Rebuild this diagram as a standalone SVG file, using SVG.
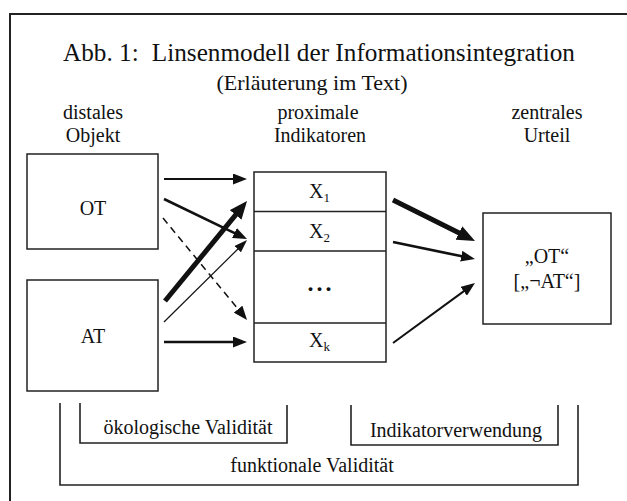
<svg xmlns="http://www.w3.org/2000/svg" width="627" height="501" viewBox="0 0 627 501" font-family="'Liberation Serif','Times New Roman',serif">
<style>
text{font-family:"Liberation Serif","Times New Roman",serif;fill:#111;}
.lbl{font-size:20px;text-anchor:middle;}
.box{fill:none;stroke:#222;stroke-width:1.5;}
.br{fill:none;stroke:#222;stroke-width:1.6;}
.ar{stroke:#111;fill:none;}
</style>
<defs>
<marker id="hs" markerUnits="userSpaceOnUse" markerWidth="13" markerHeight="9" refX="2" refY="4.5" orient="auto"><path d="M0,0 L13,4.5 L0,9 Z" fill="#111"/></marker>
<marker id="hm" markerUnits="userSpaceOnUse" markerWidth="14" markerHeight="11" refX="2" refY="5.5" orient="auto"><path d="M0,0 L14,5.5 L0,11 Z" fill="#111"/></marker>
<marker id="hl" markerUnits="userSpaceOnUse" markerWidth="18" markerHeight="15" refX="2" refY="7.5" orient="auto"><path d="M0,0 L18,7.5 L0,15 Z" fill="#111"/></marker>
</defs>
<rect width="627" height="501" fill="#fff"/>
<g id="frame"><path d="M10,501 V14 H627" fill="none" stroke="#222" stroke-width="2"/></g>
<g id="titles" font-family="'Liberation Serif',serif">
<text x="63" y="61" font-size="25" textLength="512" lengthAdjust="spacingAndGlyphs">Abb. 1:<tspan dx="13">Linsenmodell der Informationsintegration</tspan></text>
<text x="312" y="90" font-size="22" text-anchor="middle">(Erläuterung im Text)</text>
<text class="lbl" x="93" y="119">distales</text>
<text class="lbl" x="93" y="142">Objekt</text>
<text class="lbl" x="318" y="119">proximale</text>
<text class="lbl" x="320" y="142">Indikatoren</text>
<text class="lbl" x="547" y="119">zentrales</text>
<text class="lbl" x="547" y="142">Urteil</text>
</g>
<g id="OT" font-family="'Liberation Serif',serif"><rect class="box" x="27" y="154" width="131" height="95"/><text class="lbl" x="93" y="215">OT</text></g>
<g id="AT" font-family="'Liberation Serif',serif"><rect class="box" x="27" y="280" width="131" height="111"/><text class="lbl" x="93" y="343">AT</text></g>
<g id="indicators" font-family="'Liberation Serif',serif">
<rect class="box" x="254" y="172" width="132" height="190"/>
<path d="M254,211.5 H386 M254,251 H386 M254,323 H386" stroke="#222" stroke-width="1.5"/>
<text x="309" y="198" font-size="20">X<tspan font-size="13" dy="4">1</tspan></text>
<text x="309" y="238" font-size="20">X<tspan font-size="13" dy="4">2</tspan></text>
<text x="321" y="291" font-size="24" text-anchor="middle" font-weight="bold" letter-spacing="3">...</text>
<text x="309" y="347" font-size="20">X<tspan font-size="13" dy="4">k</tspan></text>
</g>
<g id="judgement" font-family="'Liberation Serif',serif"><rect class="box" x="483" y="213" width="128" height="111"/>
<text class="lbl" x="547" y="263">„OT“</text>
<text class="lbl" x="547" y="288">[„¬AT“]</text></g>
<g id="connectors">
<line class="ar" x1="164" y1="179" x2="235" y2="179" stroke-width="2.2" marker-end="url(#hm)"/>
<line class="ar" x1="164" y1="199" x2="236.2" y2="233.8" stroke-width="2.6" marker-end="url(#hm)"/>
<line class="ar" x1="163" y1="218" x2="239.4" y2="310.7" stroke-width="1.5" stroke-dasharray="7,5" marker-end="url(#hm)"/>
<line class="ar" x1="165" y1="301" x2="236.9" y2="213.4" stroke-width="5" marker-end="url(#hl)"/>
<line class="ar" x1="164" y1="322" x2="239.2" y2="247.7" stroke-width="1.2" marker-end="url(#hs)"/>
<line class="ar" x1="164" y1="342" x2="235" y2="342" stroke-width="2.6" marker-end="url(#hm)"/>
<line class="ar" x1="393" y1="200" x2="460.7" y2="233.8" stroke-width="5" marker-end="url(#hl)"/>
<line class="ar" x1="393" y1="242" x2="463.2" y2="256.6" stroke-width="2.6" marker-end="url(#hm)"/>
<line class="ar" x1="393" y1="343" x2="465.3" y2="290.1" stroke-width="2" marker-end="url(#hm)"/>
</g>
<g id="brackets" font-family="'Liberation Serif',serif">
<path class="br" d="M60,403 V485 H578 V405"/>
<path class="br" d="M80,403 V443 H287 V405"/>
<path class="br" d="M351,405 V445 H558 V405"/>
<text x="188" y="434" font-size="20" text-anchor="middle">ökologische Validität</text>
<text x="456" y="437" font-size="20" text-anchor="middle">Indikatorverwendung</text>
<text x="312" y="472" font-size="20" text-anchor="middle">funktionale Validität</text>
</g>
</svg>
